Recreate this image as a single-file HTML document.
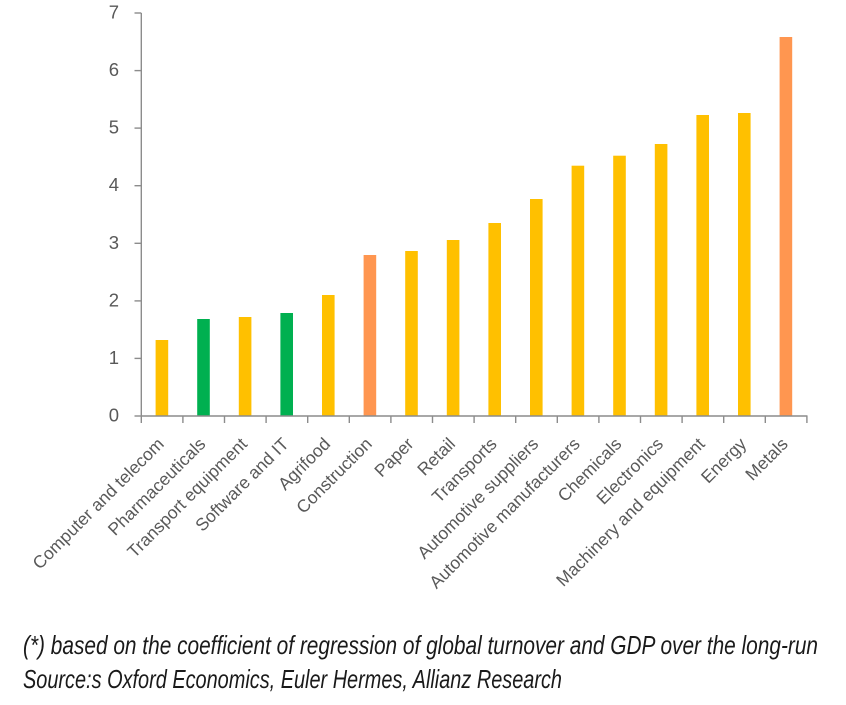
<!DOCTYPE html>
<html>
<head>
<meta charset="utf-8">
<style>
  html, body { margin:0; padding:0; background:#fff; }
  svg { display:block; }
</style>
</head>
<body>
<svg width="846" height="705" viewBox="0 0 846 705" xmlns="http://www.w3.org/2000/svg">
  <rect x="0" y="0" width="846" height="705" fill="#ffffff"/>
  <!-- bars -->
  <g>
    <rect x="155.6" y="340" width="12.6" height="76" fill="#FFC000"/>
    <rect x="197.2" y="319" width="12.6" height="97" fill="#00B050"/>
    <rect x="238.8" y="317" width="12.6" height="99" fill="#FFC000"/>
    <rect x="280.4" y="313" width="12.6" height="103" fill="#00B050"/>
    <rect x="322.0" y="295" width="12.6" height="121" fill="#FFC000"/>
    <rect x="363.6" y="255" width="12.6" height="161" fill="#FF9650"/>
    <rect x="405.2" y="251" width="12.6" height="165" fill="#FFC000"/>
    <rect x="446.8" y="240" width="12.6" height="176" fill="#FFC000"/>
    <rect x="488.4" y="223" width="12.6" height="193" fill="#FFC000"/>
    <rect x="530.0" y="199" width="12.6" height="217" fill="#FFC000"/>
    <rect x="571.6" y="165.7" width="12.6" height="250.3" fill="#FFC000"/>
    <rect x="613.2" y="155.7" width="12.6" height="260.3" fill="#FFC000"/>
    <rect x="654.8" y="144" width="12.6" height="272" fill="#FFC000"/>
    <rect x="696.4" y="115" width="12.6" height="301" fill="#FFC000"/>
    <rect x="738.0" y="113" width="12.6" height="303" fill="#FFC000"/>
    <rect x="779.6" y="37" width="12.6" height="379" fill="#FF9650"/>
  </g>
  <!-- axes -->
  <g stroke="#8c8c8c" stroke-width="1.4" fill="none">
    <line x1="141.3" y1="13" x2="141.3" y2="416"/>
    <line x1="141.3" y1="416" x2="807.5" y2="416"/>
    <line x1="134.5" y1="13" x2="141.3" y2="13"/>
    <line x1="134.5" y1="70.6" x2="141.3" y2="70.6"/>
    <line x1="134.5" y1="128.1" x2="141.3" y2="128.1"/>
    <line x1="134.5" y1="185.7" x2="141.3" y2="185.7"/>
    <line x1="134.5" y1="243.3" x2="141.3" y2="243.3"/>
    <line x1="134.5" y1="300.9" x2="141.3" y2="300.9"/>
    <line x1="134.5" y1="358.4" x2="141.3" y2="358.4"/>
    <line x1="134.5" y1="416" x2="141.3" y2="416"/>
    <line x1="141.3" y1="416" x2="141.3" y2="423"/>
    <line x1="182.9" y1="416" x2="182.9" y2="423"/>
    <line x1="224.5" y1="416" x2="224.5" y2="423"/>
    <line x1="266.1" y1="416" x2="266.1" y2="423"/>
    <line x1="307.7" y1="416" x2="307.7" y2="423"/>
    <line x1="349.3" y1="416" x2="349.3" y2="423"/>
    <line x1="390.9" y1="416" x2="390.9" y2="423"/>
    <line x1="432.5" y1="416" x2="432.5" y2="423"/>
    <line x1="474.1" y1="416" x2="474.1" y2="423"/>
    <line x1="515.7" y1="416" x2="515.7" y2="423"/>
    <line x1="557.3" y1="416" x2="557.3" y2="423"/>
    <line x1="598.9" y1="416" x2="598.9" y2="423"/>
    <line x1="640.5" y1="416" x2="640.5" y2="423"/>
    <line x1="682.1" y1="416" x2="682.1" y2="423"/>
    <line x1="723.7" y1="416" x2="723.7" y2="423"/>
    <line x1="765.3" y1="416" x2="765.3" y2="423"/>
    <line x1="806.9" y1="416" x2="806.9" y2="423"/>
  </g>
  <!-- y labels -->
  <g font-family="'Liberation Sans', sans-serif" font-size="18.5" fill="#595959" text-anchor="end">
    <text x="119" y="18.5">7</text>
    <text x="119" y="76.1">6</text>
    <text x="119" y="133.6">5</text>
    <text x="119" y="191.2">4</text>
    <text x="119" y="248.8">3</text>
    <text x="119" y="306.4">2</text>
    <text x="119" y="363.9">1</text>
    <text x="119" y="421.5">0</text>
  </g>
  <!-- x labels -->
  <g font-family="'Liberation Sans', sans-serif" font-size="17.5" fill="#595959" text-anchor="end">
    <text transform="translate(165,445) rotate(-45)">Computer and telecom</text>
    <text transform="translate(206.6,445) rotate(-45)">Pharmaceuticals</text>
    <text transform="translate(248.2,445) rotate(-45)">Transport equipment</text>
    <text transform="translate(289.8,445) rotate(-45)">Software and IT</text>
    <text transform="translate(331.4,445) rotate(-45)">Agrifood</text>
    <text transform="translate(373,445) rotate(-45)">Construction</text>
    <text transform="translate(414.6,445) rotate(-45)">Paper</text>
    <text transform="translate(456.2,445) rotate(-45)">Retail</text>
    <text transform="translate(497.8,445) rotate(-45)">Transports</text>
    <text transform="translate(539.4,445) rotate(-45)">Automotive suppliers</text>
    <text transform="translate(581,445) rotate(-45)">Automotive manufacturers</text>
    <text transform="translate(622.6,445) rotate(-45)">Chemicals</text>
    <text transform="translate(664.2,445) rotate(-45)">Electronics</text>
    <text transform="translate(705.8,445) rotate(-45)">Machinery and equipment</text>
    <text transform="translate(747.4,445) rotate(-45)">Energy</text>
    <text transform="translate(789,445) rotate(-45)">Metals</text>
  </g>
  <!-- footnotes -->
  <g font-family="'Liberation Sans', sans-serif" font-size="26" font-style="italic" fill="#1a1a1a">
    <text x="23" y="654" textLength="795" lengthAdjust="spacingAndGlyphs">(*) based on the coefficient of regression of global turnover and GDP over the long-run</text>
    <text x="23" y="688" textLength="539" lengthAdjust="spacingAndGlyphs">Source:s Oxford Economics, Euler Hermes, Allianz Research</text>
  </g>
</svg>
</body>
</html>
